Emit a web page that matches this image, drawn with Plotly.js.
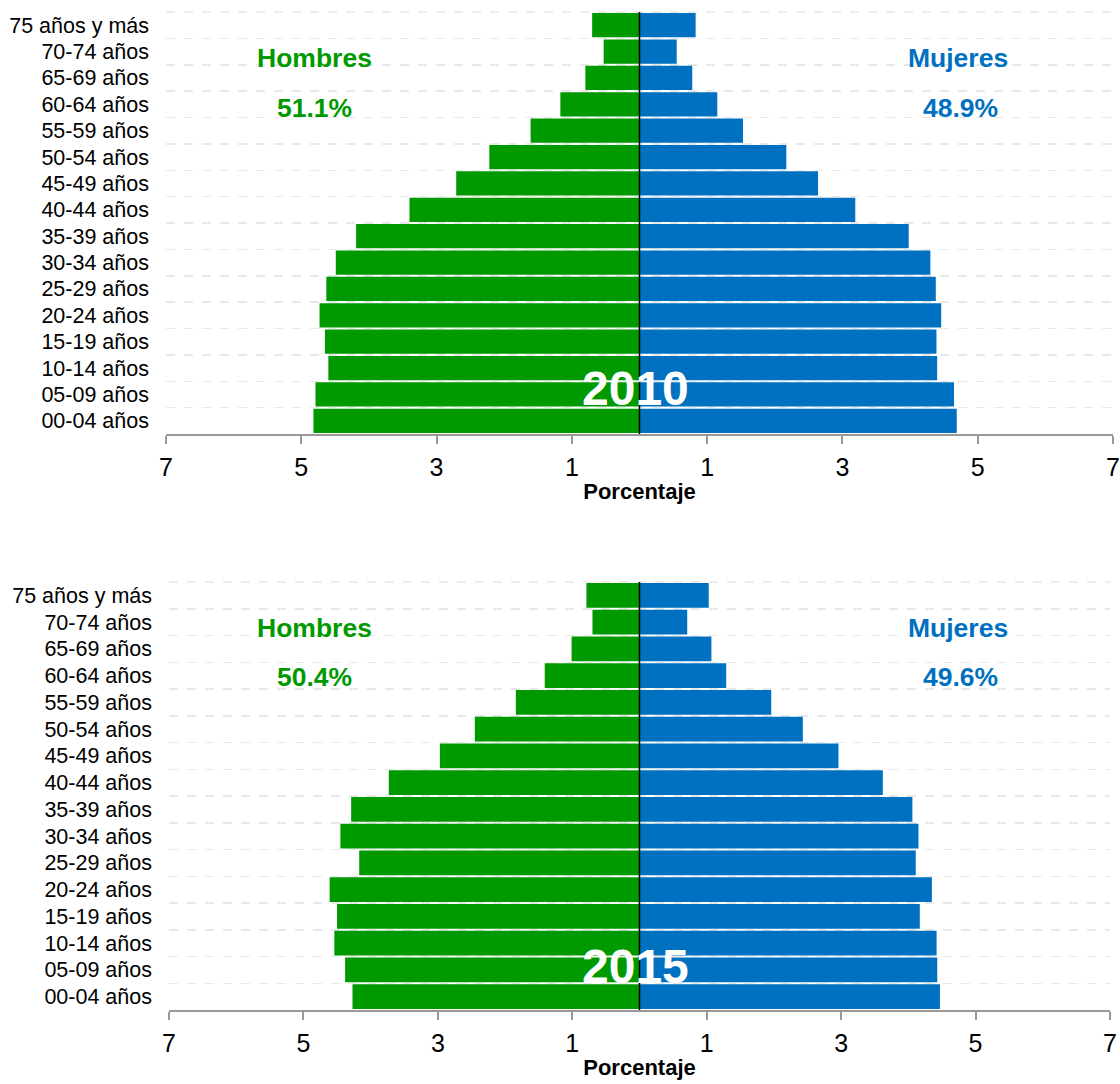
<!DOCTYPE html>
<html>
<head>
<meta charset="utf-8">
<script src="https://cdn.plot.ly/plotly-3.0.1.min.js"></script>
<style>html,body{margin:0;padding:0;background:#fff;}#chart{width:1120px;height:1084px;}</style>
</head>
<body>
<div id="chart"></div>
<script>
const ageGroups = ["00-04 años","05-09 años","10-14 años","15-19 años","20-24 años","25-29 años","30-34 años","35-39 años","40-44 años","45-49 años","50-54 años","55-59 años","60-64 años","65-69 años","70-74 años","75 años y más"];
const hombres2010 = [4.82,4.79,4.60,4.65,4.73,4.63,4.49,4.19,3.40,2.71,2.22,1.61,1.17,0.80,0.53,0.70];
const mujeres2010 = [4.69,4.65,4.40,4.39,4.46,4.38,4.30,3.98,3.19,2.64,2.17,1.53,1.15,0.78,0.55,0.83];
const hombres2015 = [4.27,4.38,4.54,4.50,4.61,4.17,4.45,4.29,3.73,2.97,2.45,1.84,1.41,1.01,0.70,0.79];
const mujeres2015 = [4.47,4.43,4.42,4.17,4.35,4.11,4.15,4.06,3.62,2.96,2.43,1.96,1.29,1.07,0.71,1.03];
const tickVals = [-7,-5,-3,-1,1,3,5,7];
const tickText = ["7","5","3","1","1","3","5","7"];
const years = ["2010","2015"];
const pctHombres = ["51.1%","50.4%"];
const pctMujeres = ["48.9%","49.6%"];

const GREEN = "#009900", BLUE = "#0070C0";
const FONT = "Liberation Sans, Arial, Helvetica, sans-serif";

function neg(a){ return a.map(v => -v); }

const traces = [
  {type:"bar", orientation:"h", y:ageGroups, x:neg(hombres2010), marker:{color:GREEN}, xaxis:"x", yaxis:"y", name:"Hombres", hoverinfo:"skip"},
  {type:"bar", orientation:"h", y:ageGroups, x:mujeres2010, marker:{color:BLUE}, xaxis:"x", yaxis:"y", name:"Mujeres", hoverinfo:"skip"},
  {type:"bar", orientation:"h", y:ageGroups, x:neg(hombres2015), marker:{color:GREEN}, xaxis:"x2", yaxis:"y2", name:"Hombres", hoverinfo:"skip"},
  {type:"bar", orientation:"h", y:ageGroups, x:mujeres2015, marker:{color:BLUE}, xaxis:"x2", yaxis:"y2", name:"Mujeres", hoverinfo:"skip"}
];

function xax(domain, anchor){
  return {
    domain: domain, anchor: anchor, range:[-7,7], tickvals:tickVals, ticktext:tickText,
    showgrid:false, zeroline:false, showline:true, linecolor:"#999999", linewidth:2,
    ticks:"outside", ticklen:8, tickwidth:2, tickcolor:"#999999",
    tickfont:{family:FONT, size:25, color:"#000"}, ticklabelstandoff:2,
    title:{text:"<b>Porcentaje</b>", font:{family:FONT, size:22, color:"#000"}, standoff:4},
    automargin:false, fixedrange:true
  };
}
function yax(domain, anchor){
  return {
    domain: domain, anchor: anchor, type:"category", categoryorder:"array", categoryarray:ageGroups,
    range:[-0.5,15.5], showgrid:true, gridcolor:"#e8e8e8", griddash:"dash", gridwidth:1.5,
    tickson:"boundaries", ticks:"", showline:false, zeroline:false,
    tickfont:{family:FONT, size:21.5, color:"#000"}, ticklabelstandoff:16,
    automargin:false, fixedrange:true
  };
}

const ann = [];
const pos = [
  {hy:0.9465, py:0.9004, yy:0.6420},
  {hy:0.4207, py:0.3755, yy:0.1080}
];
for (let i=0;i<2;i++){
  ann.push({xref:"paper", yref:"paper", x:0.2804, y:pos[i].hy, text:"<b>Hombres</b>", showarrow:false, font:{family:FONT,size:26.5,color:GREEN}, xanchor:"center", yanchor:"middle"});
  ann.push({xref:"paper", yref:"paper", x:0.2812, y:pos[i].py, text:"<b>"+pctHombres[i]+"</b>", showarrow:false, font:{family:FONT,size:26.5,color:GREEN}, xanchor:"center", yanchor:"middle"});
  ann.push({xref:"paper", yref:"paper", x:0.8555, y:pos[i].hy, text:"<b>Mujeres</b>", showarrow:false, font:{family:FONT,size:26.5,color:BLUE}, xanchor:"center", yanchor:"middle"});
  ann.push({xref:"paper", yref:"paper", x:0.8580, y:pos[i].py, text:"<b>"+pctMujeres[i]+"</b>", showarrow:false, font:{family:FONT,size:26.5,color:BLUE}, xanchor:"center", yanchor:"middle"});
  ann.push({xref:"paper", yref:"paper", x:0.5670, y:pos[i].yy, text:"<b>"+years[i]+"</b>", showarrow:false, font:{family:FONT,size:48,color:"#fff"}, xanchor:"center", yanchor:"middle"});
}

const layout = {
  width:1120, height:1084, margin:{l:0,r:0,t:0,b:0},
  paper_bgcolor:"#fff", plot_bgcolor:"#fff",
  barmode:"relative", bargap:0.08, showlegend:false,
  font:{family:FONT, color:"#000"},
  xaxis: xax([166/1120, 1113/1120], "y"),
  yaxis: yax([1-434/1084, 1-12/1084], "x"),
  xaxis2: xax([169/1120, 1110/1120], "y2"),
  yaxis2: yax([1-1010/1084, 1-582/1084], "x2"),
  annotations: ann,
  shapes: [
    {type:"line", xref:"x domain", yref:"y domain", x0:0, x1:1, y0:1, y1:1, line:{color:"#e8e8e8", width:1.5, dash:"dash"}, layer:"below"},
    {type:"line", xref:"x2 domain", yref:"y2 domain", x0:0, x1:1, y0:1, y1:1, line:{color:"#e8e8e8", width:1.5, dash:"dash"}, layer:"below"},
    {type:"line", xref:"x", yref:"y domain", x0:0, x1:0, y0:0, y1:1, line:{color:"#000", width:1.5}, layer:"above"},
    {type:"line", xref:"x2", yref:"y2 domain", x0:0, x1:0, y0:0, y1:1, line:{color:"#000", width:1.5}, layer:"above"}
  ]
};

Plotly.newPlot("chart", traces, layout, {staticPlot:true, displayModeBar:false});
</script>
</body>
</html>
